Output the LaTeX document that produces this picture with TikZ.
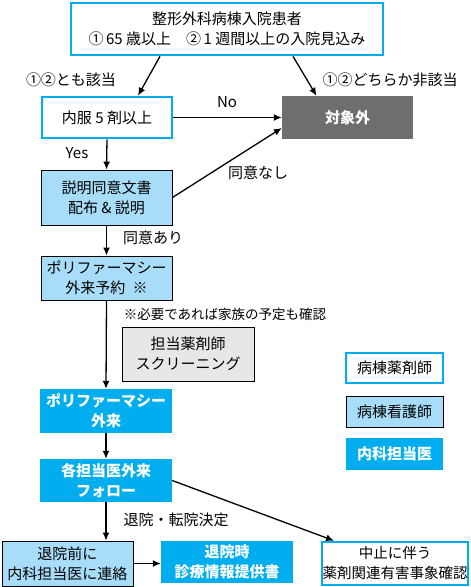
\documentclass[tikz,border=0pt]{standalone}
\usepackage{fontspec}
\setmainfont{Noto Sans CJK JP}
\usetikzlibrary{arrows.meta}
\definecolor{wardcyan}{RGB}{0,174,239}
\definecolor{nurseblue}{RGB}{167,221,248}
\definecolor{outgray}{RGB}{109,110,112}
\definecolor{screengray}{RGB}{230,231,232}
\begin{document}
\begin{tikzpicture}[x=1pt,y=-1pt,
    font=\fontsize{15}{20}\selectfont,
    box/.style={minimum width=#1, align=center, inner sep=0pt},
    pharm/.style={box=#1, draw=wardcyan, line width=2.6pt, fill=white},
    nurse/.style={box=#1, draw=black, line width=0.9pt, fill=nurseblue},
    doctor/.style={box=#1, fill=wardcyan, text=white, font=\fontsize{15}{20}\selectfont\bfseries},
    arr/.style={-{Latex[length=8pt,width=7pt]}, line width=1.3pt},
    lbl/.style={inner sep=0pt}]
  \useasboundingbox (0,0) rectangle (471,587);
  % boxes
  \node[pharm=312pt, minimum height=52pt] (top) at (227,29)
    {整形外科病棟入院患者\\①\,65 歳以上\quad ②\,1 週間以上の入院見込み};
  \node[pharm=130pt, minimum height=41pt] (naifuku) at (107,117.5) {内服 5 剤以上};
  \node[box=131pt, minimum height=43pt, fill=outgray, text=white,
    font=\fontsize{15}{20}\selectfont\bfseries] (taisho) at (347.5,117.5) {対象外};
  \node[nurse=131pt, minimum height=55pt] (setsumei) at (106.5,197.5)
    {説明同意文書\\配布 \& 説明};
  \node[nurse=131pt, minimum height=44pt] (yoyaku) at (106.5,278)
    {ポリファーマシー\\外来予約\enspace ※};
  \node[box=132pt, minimum height=54pt, draw=black, line width=0.9pt,
    fill=screengray] (screening) at (188,354) {担当薬剤師\\スクリーニング};
  \node[doctor=132pt, minimum height=44pt] (gairai) at (106,411)
    {ポリファーマシー\\外来};
  \node[doctor=132pt, minimum height=43pt] (follow) at (106,480.5)
    {各担当医外来\\フォロー};
  \node[nurse=131pt, minimum height=45pt] (renraku) at (67.5,563.5)
    {退院前に\\内科担当医に連絡};
  \node[doctor=132pt, minimum height=42pt] (teikyo) at (227,562)
    {退院時\\診療情報提供書};
  \node[pharm=146pt, minimum height=43pt, font=\fontsize{14.5}{20}\selectfont] (chushi) at (395,563.5)
    {中止に伴う\\薬剤関連有害事象確認};
  % legend
  \node[pharm=97pt, minimum height=30pt] (legpharm) at (394.5,368) {病棟薬剤師};
  \node[nurse=97pt, minimum height=31pt] (legnurse) at (394.5,411.5) {病棟看護師};
  \node[doctor=97pt, minimum height=32pt] (legdoctor) at (394.5,454) {内科担当医};
  % labels
  \node[lbl] (both) at (71,80) {①②とも該当};
  \node[lbl] (either) at (390,80) {①②どちらか非該当};
  \node[lbl] (no) at (227,102) {No};
  \node[lbl] (yes) at (77,153) {Yes};
  \node[lbl] (refuse) at (258,173) {同意なし};
  \node[lbl] (agree) at (153,238) {同意あり};
  \node[lbl, font=\fontsize{13.5}{16}\selectfont] (note) at (225,314)
    {※必要であれば家族の予定も確認};
  \node[lbl] (discharge) at (176,520) {退院・転院決定};
  % connectors
  \begin{scope}[arr]
    \draw ([xshift=-67pt]top.south) -- ([xshift=31pt]naifuku.north);
    \draw ([xshift=66pt]top.south) -- ([xshift=-31pt]taisho.north);
    \draw (naifuku.east) -- (taisho.west);
    \draw (naifuku.south) -- (setsumei.north);
    \draw (setsumei.east) -- ([yshift=-10.5pt]taisho.west);
    \draw (setsumei.south) -- (yoyaku.north);
    \draw (yoyaku.south) -- (gairai.north);
    \draw (gairai.south) -- (follow.north);
    \draw (follow.south) -- (follow.south |- renraku.north);
    \draw (follow.east) -- ([xshift=-61pt]chushi.north);
    \draw (renraku.east) -- (renraku.east -| teikyo.west);
  \end{scope}
\end{tikzpicture}
\end{document}
